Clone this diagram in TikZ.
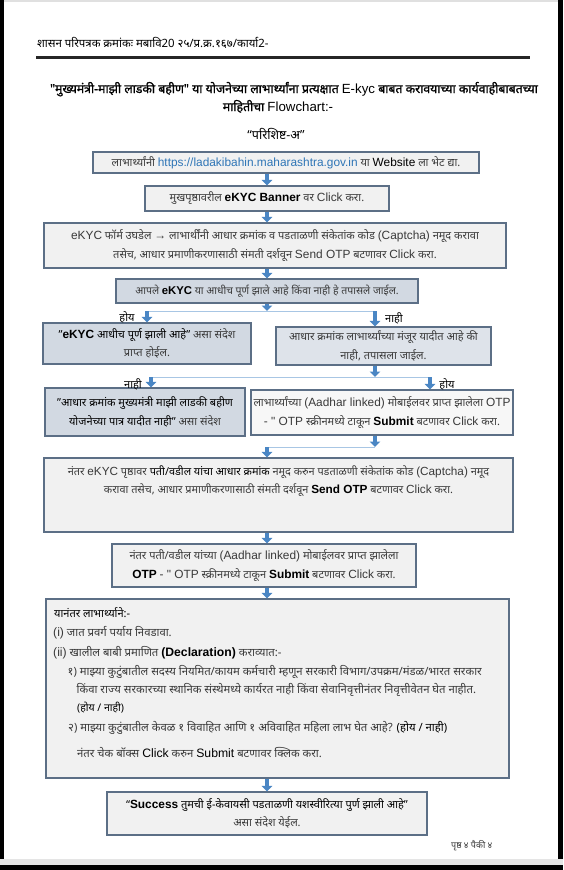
\documentclass[tikz,border=0pt]{standalone}
\usepackage{fontspec}
\setmainfont[Script=Devanagari]{Noto Sans}
\newfontfamily\semib[Script=Devanagari,FakeBold=1.3]{Noto Sans}
\newfontfamily\lat[Scale=1.08]{Liberation Sans}
\usetikzlibrary{arrows.meta}
\definecolor{bordc}{HTML}{5C6F86}
\definecolor{boxgrey}{HTML}{F1F1F1}
\definecolor{boxblue}{HTML}{D2D9E2}
\definecolor{boxblueL}{HTML}{DEE3EA}
\definecolor{boxwhite}{HTML}{F7F7F7}
\definecolor{arrblue}{HTML}{4A86C4}
\definecolor{linblue}{HTML}{A8C6E4}
\definecolor{linkc}{HTML}{2E75B6}
\definecolor{txtc}{HTML}{3A3A3A}
\newcommand{\fs}[1]{\fontsize{#1}{18.5}\selectfont}
\newcommand{\bk}{\bfseries\color{black}}
\begin{document}
\begin{tikzpicture}[x=1pt,y={(0pt,-1pt)},
  box/.style={draw=bordc, line width=1.1pt, fill=boxgrey, inner sep=0pt, align=center, font=\fs{11}, text=txtc},
  arr/.style={draw=arrblue, line width=3.4pt, -{Triangle[width=10.5pt,length=5.5pt]}},
  thin/.style={draw=linblue, line width=0.9pt},
  lab/.style={font=\fs{11}\bfseries, text=black, inner sep=0pt},
  txt/.style={font=\fs{11.3}, text=txtc, inner sep=0pt, anchor=base west}]
\useasboundingbox (0,0) rectangle (563,870);
\fill[white] (0,0) rectangle (563,870);
\fill[black!12] (0,0) rectangle (563,1.5);
\fill[black] (0,0) rectangle (3.5,870);
\fill[black] (558,0) rectangle (563,870);
\fill[black!10] (0,859) rectangle (563,865);
\fill[black] (0,865) rectangle (563,870);

% header
\node[txt, anchor=base west, font=\fs{11.4}, text=black] (hdr) at (37,47) {शासन परिपत्रक क्रमांकः मबावि20 २५/प्र.क्र.१६७/कार्या2-};
\draw[line width=2.8pt, draw=black!85] (36,57.5) -- (530,57.5);
\node[inner sep=0pt, font=\fs{12.3}\semib, text=black, anchor=base] (t1) at (294,93) {"मुख्यमंत्री-माझी लाडकी बहीण" या योजनेच्या लाभार्थ्यांना प्रत्यक्षात {\lat E-kyc} बाबत करावयाच्या कार्यवाहीबाबतच्या};
\node[inner sep=0pt, font=\fs{12.3}\semib, text=black, anchor=base] (t2) at (278,111) {माहितीचा {\lat Flowchart:-}};
\node[inner sep=0pt, font=\fs{12.5}\bfseries, text=black, anchor=base] (t3) at (276,139) {“परिशिष्ट-अ”};

% boxes
\node[box, minimum width=386pt, minimum height=21pt] (b1) at (286,162.5) {लाभार्थ्यांनी {\lat\color{linkc}https://ladakibahin.maharashtra.gov.in} या {\lat\color{black}Website} ला भेट द्या.};
\node[box, minimum width=244pt, minimum height=25pt] (b2) at (267,198.5) {मुखपृष्ठावरील {\lat\bk eKYC Banner} वर {\lat Click} करा.};
\node[box, minimum width=462pt, minimum height=45pt] (b3) at (275,245.5) {{\lat eKYC} फॉर्म उघडेल {\lat →} लाभार्थींनी आधार क्रमांक व  पडताळणी संकेतांक कोड {\lat (Captcha)} नमूद करावा\\ तसेच, आधार प्रमाणीकरणासाठी संमती दर्शवून {\lat Send OTP} बटणावर {\lat Click} करा.};
\node[box, fill=boxblue, minimum width=302pt, minimum height=24pt, font=\fs{10.5}] (b4) at (267,291) {आपले {\lat\bk eKYC} या आधीच पूर्ण झाले आहे किंवा नाही हे तपासले जाईल.};
\node[box, fill=boxblue, minimum width=208pt, minimum height=41pt] (b5) at (147,343.5) {{\bk "{\lat eKYC} आधीच पूर्ण झाली आहे"} असा संदेश\\ प्राप्त होईल.};
\node[box, fill=boxblueL, minimum width=215pt, minimum height=38pt] (b6) at (383.5,346) {आधार क्रमांक लाभार्थ्यांच्या मंजूर यादीत आहे की\\ नाही, तपासला जाईल.};
\node[box, fill=boxblue, minimum width=200pt, minimum height=48pt] (b7) at (145,412) {{\bk "आधार क्रमांक मुख्यमंत्री माझी लाडकी बहीण}\\ {\bk योजनेच्या पात्र यादीत नाही"} असा संदेश};
\node[box, fill=boxwhite, minimum width=262pt, minimum height=45pt] (b8) at (382,412.5) {लाभार्थ्यांच्या {\lat (Aadhar linked)} मोबाईलवर प्राप्त झालेला {\lat OTP}\\ {\lat - " OTP} स्क्रीनमध्ये टाकून {\lat\bk Submit} बटणावर {\lat Click} करा.};
\node[box, minimum width=469pt, minimum height=74pt] (b9) at (278.5,495) {};
\node[inner sep=0pt, font=\fs{10.9}, text=txtc, align=center, anchor=north] (b9t) at (278.5,465.5) {नंतर {\lat eKYC} पृष्ठावर {\bk पती/वडील यांचा आधार क्रमांक} नमूद करुन पडताळणी संकेतांक कोड {\lat (Captcha)} नमूद\\ करावा तसेच, आधार प्रमाणीकरणासाठी संमती दर्शवून {\lat\bk Send OTP} बटणावर {\lat Click} करा.};
\node[box, minimum width=304pt, minimum height=43pt] (b10) at (264,565.5) {नंतर पती/वडील यांच्या {\lat (Aadhar linked)} मोबाईलवर प्राप्त झालेला\\ {\lat\bk OTP} {\lat - " OTP} स्क्रीनमध्ये टाकून {\lat\bk Submit} बटणावर {\lat Click} करा.};
\node[box, minimum width=463pt, minimum height=179pt] (b11) at (277.5,688.5) {};
\node[txt, text=black, font=\fs{11}\bfseries] (l1) at (54,617) {यानंतर लाभार्थ्याने:-};
\node[txt] (l2) at (53,636) {{\lat (i)} जात प्रवर्ग पर्याय निवडावा.};
\node[txt] (l3) at (53,656) {{\lat (ii)} खालील बाबी प्रमाणित {\lat\bk (Declaration)} कराव्यात:-};
\node[txt] (l4) at (67.5,675) {१) माझ्या कुटुंबातील सदस्य नियमित/कायम कर्मचारी म्हणून सरकारी विभाग/उपक्रम/मंडळ/भारत सरकार};
\node[txt] (l5) at (76.5,693) {किंवा राज्य सरकारच्या स्थानिक संस्थेमध्ये कार्यरत नाही किंवा सेवानिवृत्तीनंतर निवृत्तीवेतन घेत नाहीत.};
\node[txt, text=black, font=\fs{10.5}\bfseries] (l6) at (77,711) {(होय / नाही)};
\node[txt] (l7) at (68,731) {२) माझ्या कुटुंबातील केवळ १ विवाहित आणि १ अविवाहित महिला लाभ घेत आहे? {\bk (होय / नाही)}};
\node[txt] (l8) at (77,757) {नंतर चेक बॉक्स {\lat\color{black}Click} करुन {\lat\color{black}Submit} बटणावर क्लिक करा.};
\node[box, minimum width=320pt, minimum height=43pt] (b12) at (267,813.5) {{\bk “{\lat Success} तुमची ई-केवायसी पडताळणी यशस्वीरित्या पुर्ण झाली आहे”}\\ असा संदेश येईल.};
\node[txt, font=\fs{9}] (pg) at (451,848) {पृष्ठ ४ पैकी ४};

% labels
\node[lab] (y1) at (127,317) {होय};
\node[lab] (n1) at (394,318) {नाही};
\node[lab] (n2) at (133,384) {नाही};
\node[lab] (y2) at (447,384) {होय};

% connectors
\coordinate (s1) at (267,311);
\coordinate (s1l) at (147,311);
\coordinate (s1r) at (375,311);
\coordinate (s2) at (375,377);
\coordinate (s2l) at (151,377);
\coordinate (s2r) at (430,377);
\coordinate (m1) at (375,447);
\coordinate (m2) at (267,447);
\draw[arr] (b1.south -| b2.north) -- (b2.north);
\draw[arr] (b2.south) -- (b2.south |- b3.north);
\draw[arr] (b3.south -| b4.north) -- (b4.north);
\draw[thin] (s1l) -- (s1r);
\draw[arr] (b4.south) -- (s1);
\draw[arr] (s1l) -- (s1l |- b5.north);
\draw[arr] (s1r) -- (s1r |- b6.north);
\draw[thin] (s2l) -- (s2r);
\draw[arr] (b6.south -| s2) -- (s2);
\draw[arr] (s2l) -- (s2l |- b7.north);
\draw[arr] (s2r) -- (s2r |- b8.north);
\draw[thin] (m1) -- (m2);
\draw[arr] (b8.south -| m1) -- (m1);
\draw[arr] (m2) -- (m2 |- b9.north);
\draw[arr] (m2 |- b9.south) -- (m2 |- b10.north);
\draw[arr] (m2 |- b10.south) -- (m2 |- b11.north);
\draw[arr] (m2 |- b11.south) -- (m2 |- b12.north);
\end{tikzpicture}
\end{document}
